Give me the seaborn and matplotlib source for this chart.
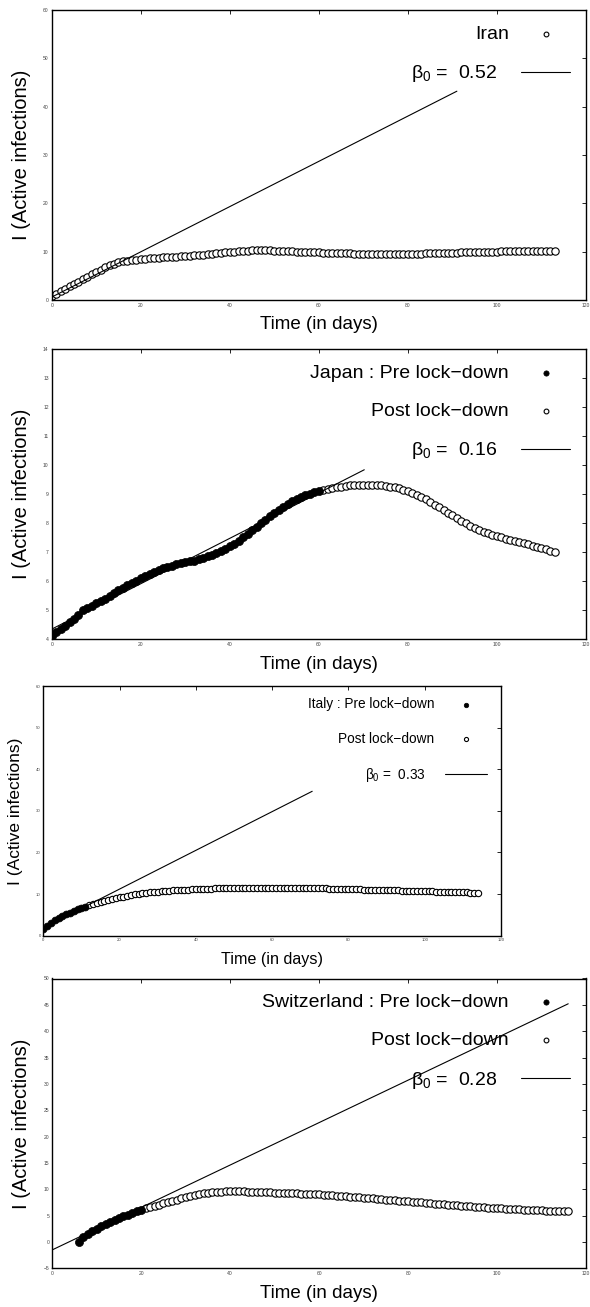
'''Curvas de infecciones activas (I) pre y post cuarentena, con ajuste lineal beta_0'''

import numpy as np
import matplotlib
matplotlib.use('Agg')
import matplotlib.pyplot as plt
import seaborn as sns

# ---------------- Datos ----------------
# Iran: un solo tramo
iran_dias = np.arange(0, 114)
iran_I = [0.8, 1.3, 1.8, 2.3, 2.8, 3.3, 3.8, 4.3, 4.8, 5.3,
          5.8, 6.3, 6.8, 7.2, 7.5, 7.8, 8.0, 8.1, 8.2, 8.3,
          8.4, 8.5, 8.6, 8.7, 8.75, 8.8, 8.9, 8.95, 9.0, 9.1,
          9.15, 9.2, 9.3, 9.35, 9.4, 9.5, 9.55, 9.65, 9.75, 9.85,
          9.95, 10.0, 10.1, 10.15, 10.2, 10.25, 10.3, 10.3, 10.3, 10.25,
          10.2, 10.2, 10.15, 10.1, 10.05, 10.0, 10.0, 9.95, 9.9, 9.9,
          9.85, 9.8, 9.8, 9.75, 9.7, 9.7, 9.65, 9.65, 9.6, 9.6,
          9.6, 9.55, 9.55, 9.5, 9.5, 9.5, 9.5, 9.5, 9.55, 9.55,
          9.55, 9.6, 9.6, 9.6, 9.65, 9.65, 9.7, 9.7, 9.75, 9.75,
          9.8, 9.8, 9.85, 9.85, 9.9, 9.9, 9.95, 9.95, 10.0, 10.0,
          10.0, 10.05, 10.05, 10.1, 10.1, 10.1, 10.15, 10.15, 10.15, 10.2,
          10.2, 10.2, 10.2, 10.2]
iran_ajuste_x = [0, 91]
iran_ajuste_y = [0.6, 43.2]

# Japon
japon_pre_dias = np.arange(0, 61)
japon_pre_I = [4.1, 4.25, 4.35, 4.45, 4.6, 4.7, 4.85, 5.0, 5.08, 5.16,
               5.24, 5.32, 5.4, 5.5, 5.6, 5.7, 5.78, 5.86, 5.94, 6.02,
               6.1, 6.18, 6.26, 6.33, 6.4, 6.45, 6.5, 6.54, 6.58, 6.62,
               6.65, 6.68, 6.71, 6.75, 6.8, 6.86, 6.92, 6.98, 7.05, 7.12,
               7.2, 7.3, 7.4, 7.52, 7.64, 7.76, 7.88, 8.0, 8.12, 8.24,
               8.35, 8.46, 8.56, 8.66, 8.75, 8.83, 8.9, 8.96, 9.02, 9.07,
               9.1]
japon_post_dias = np.arange(61, 114)
japon_post_I = [9.14, 9.18, 9.21, 9.24, 9.26, 9.28, 9.3, 9.31, 9.32,
                9.33, 9.33, 9.33, 9.32, 9.31, 9.29, 9.26, 9.23, 9.2, 9.16,
                9.11, 9.05, 8.98, 8.9, 8.82, 8.73, 8.64, 8.55, 8.45, 8.36,
                8.27, 8.18, 8.09, 8.0, 7.92, 7.85, 7.78, 7.71, 7.65, 7.6,
                7.56, 7.51, 7.47, 7.43, 7.39, 7.35, 7.31, 7.27, 7.23, 7.19,
                7.15, 7.1, 7.05, 7.0]
japon_ajuste_x = [0, 70.2]
japon_ajuste_y = [4.35, 9.84]

# Italia
italia_pre_dias = np.arange(0, 12)
italia_pre_I = [1.6, 2.4, 3.1, 3.7, 4.2, 4.7, 5.1, 5.5, 5.9, 6.3, 6.6, 7.0]
italia_post_dias = np.arange(12, 115)
italia_post_I = [7.3, 7.6, 7.85, 8.1, 8.35, 8.6, 8.8, 9.0,
                 9.2, 9.4, 9.6, 9.75, 9.9, 10.05, 10.2, 10.3, 10.4, 10.5,
                 10.6, 10.7, 10.75, 10.8, 10.9, 10.95, 11.0, 11.05, 11.1, 11.15,
                 11.2, 11.2, 11.25, 11.3, 11.3, 11.35, 11.35, 11.4, 11.4, 11.4,
                 11.45, 11.45, 11.45, 11.5, 11.5, 11.5, 11.5, 11.5, 11.5, 11.5,
                 11.5, 11.5, 11.5, 11.5, 11.5, 11.5, 11.45, 11.45, 11.45, 11.45,
                 11.4, 11.4, 11.4, 11.35, 11.35, 11.3, 11.3, 11.3, 11.25, 11.25,
                 11.2, 11.2, 11.15, 11.15, 11.1, 11.1, 11.05, 11.05, 11.0, 11.0,
                 10.95, 10.95, 10.9, 10.9, 10.85, 10.85, 10.8, 10.8, 10.75, 10.75,
                 10.7, 10.65, 10.65, 10.6, 10.6, 10.55, 10.5, 10.5, 10.45, 10.45,
                 10.4, 10.4, 10.35, 10.35, 10.3]
italia_ajuste_x = [0, 70.5]
italia_ajuste_y = [1.9, 34.7]

# Suiza
suiza_pre_dias = np.arange(6, 21)
suiza_pre_I = [0.0, 1.0, 1.6, 2.0, 2.5, 3.0, 3.4, 3.8, 4.2, 4.6, 4.9, 5.2, 5.5, 5.8, 6.1]
suiza_post_dias = np.arange(21, 117)
suiza_post_I = [6.4, 6.65, 6.9, 7.1, 7.3, 7.55, 7.8, 8.05, 8.3,
                8.55, 8.75, 8.95, 9.1, 9.25, 9.35, 9.45, 9.5, 9.55, 9.6,
                9.6, 9.6, 9.6, 9.58, 9.55, 9.52, 9.49, 9.46, 9.43, 9.4,
                9.37, 9.34, 9.31, 9.28, 9.25, 9.21, 9.17, 9.13, 9.09, 9.05,
                9.01, 8.96, 8.91, 8.86, 8.8, 8.74, 8.68, 8.61, 8.54, 8.47,
                8.4, 8.33, 8.26, 8.19, 8.12, 8.05, 7.98, 7.91, 7.84, 7.77,
                7.7, 7.63, 7.56, 7.49, 7.42, 7.35, 7.28, 7.21, 7.14, 7.07,
                7.0, 6.93, 6.86, 6.8, 6.74, 6.68, 6.62, 6.56, 6.5, 6.45,
                6.4, 6.35, 6.3, 6.26, 6.22, 6.18, 6.14, 6.1, 6.06, 6.02,
                5.98, 5.95, 5.92, 5.89, 5.86, 5.83, 5.8]
suiza_ajuste_x = [0, 116]
suiza_ajuste_y = [-1.5, 45.2]

# Textos de leyenda
etiquetas_beta = ['0.52', '0.16', '0.33', '0.28']
paises = ['Iran', 'Japan', 'Italy', 'Switzerland']

# ---------------- Estilo ----------------
sns.set_style("white")
plt.rcParams['font.family'] = ['Liberation Sans', 'DejaVu Sans']
plt.rcParams['mathtext.fontset'] = 'custom'
plt.rcParams['mathtext.rm'] = 'Liberation Sans'
plt.rcParams['mathtext.default'] = 'regular'
plt.rcParams['text.color'] = 'black'
plt.rcParams['axes.labelcolor'] = 'black'

W, H = 590, 1307
fig = plt.figure(figsize=(W / 100, H / 100), dpi=100)


def caja(x0, y0, x1, y1):
    # pixeles -> fraccion de figura
    return [x0 / W, 1 - y1 / H, (x1 - x0) / W, (y1 - y0) / H]


def graficar(ax, pre, post, ajuste, ylim, yticks, etiqueta_pre, etiqueta_post, beta,
             esc=1.0, fs_ley=14, esp_ley=1.05, largo=2.5, sep=0.65, tope=0.947,
             ylab_x=-0.039, xlab_y=-0.056):
    s_post = 28 * esc ** 2
    s_pre = 34 * esc ** 2
    if post is not None:
        sns.scatterplot(ax=ax, x=post[0], y=post[1], marker='o', s=s_post, color='white',
                        edgecolor='black', linewidth=0.8, label=etiqueta_post, zorder=2)
    if pre is not None:
        sns.scatterplot(ax=ax, x=pre[0], y=pre[1], marker='o', s=s_pre, color='black',
                        edgecolor='black', linewidth=0.5, label=etiqueta_pre, zorder=3)
    etiqueta_beta = r'β$_0$ =  ' + beta + '   '
    sns.lineplot(ax=ax, x=ajuste[0], y=ajuste[1], color='black', linewidth=0.8,
                 label=etiqueta_beta, zorder=4)

    ax.set_xlim(0, 120)
    ax.set_ylim(*ylim)
    ax.set_xticks(range(0, 121, 20))
    ax.set_yticks(yticks)
    ax.tick_params(direction='in', top=True, right=True, length=3 * esc, width=0.6,
                   labelsize=3.6 * esc, pad=2.2 * esc, colors='black')
    ax.tick_params(axis='both', labelcolor='#444444')
    for sp in ax.spines.values():
        sp.set_linewidth(1.0)
        sp.set_color('black')
        sp.set_visible(True)
    ax.set_xlabel('Time (in days)', fontsize=13.5 * esc)
    ax.set_ylabel('I (Active infections)', fontsize=14.5 * esc)
    ax.xaxis.set_label_coords(0.5, xlab_y)
    ax.yaxis.set_label_coords(ylab_x, 0.5)

    h, l = ax.get_legend_handles_labels()
    dic = dict(zip(l, h))
    orden = [e for e in [etiqueta_pre, etiqueta_post] if e is not None] + [etiqueta_beta]
    ax.legend([dic[e] for e in orden], orden, loc='upper right', bbox_to_anchor=(0.970, tope),
              frameon=False, markerfirst=False, fontsize=fs_ley, handlelength=largo,
              handletextpad=sep, labelspacing=esp_ley, borderpad=0, borderaxespad=0,
              markerscale=0.65)


# Iran
ax1 = fig.add_axes(caja(51.7, 10, 586, 300))
graficar(ax1, None, (iran_dias, iran_I), (iran_ajuste_x, iran_ajuste_y),
         (0, 60), range(0, 61, 10), None, paises[0], etiquetas_beta[0])

# Japon
ax2 = fig.add_axes(caja(51.7, 349, 586, 639.3))
graficar(ax2, (japon_pre_dias, japon_pre_I), (japon_post_dias, japon_post_I),
         (japon_ajuste_x, japon_ajuste_y), (4, 14), range(4, 15),
         paises[1] + ' : Pre lock−down', 'Post lock−down', etiquetas_beta[1])

# Italia (panel mas pequeño, letra de leyenda menor)
ax3 = fig.add_axes(caja(43.3, 686, 501, 935.7))
graficar(ax3, (italia_pre_dias, italia_pre_I), (italia_post_dias, italia_post_I),
         (italia_ajuste_x, italia_ajuste_y), (0, 60), range(0, 61, 10),
         paises[2] + ' : Pre lock−down', 'Post lock−down', etiquetas_beta[2], esc=0.86,
         fs_ley=9.8, esp_ley=1.5, largo=3.1, sep=0.8, tope=0.955,
         ylab_x=-0.0435, xlab_y=-0.065)

# Suiza
ax4 = fig.add_axes(caja(52.3, 978.5, 586, 1268.3))
graficar(ax4, (suiza_pre_dias, suiza_pre_I), (suiza_post_dias, suiza_post_I),
         (suiza_ajuste_x, suiza_ajuste_y), (-5, 50), range(-5, 51, 5),
         paises[3] + ' : Pre lock−down', 'Post lock−down', etiquetas_beta[3])

fig.savefig('out.png', dpi=100)
